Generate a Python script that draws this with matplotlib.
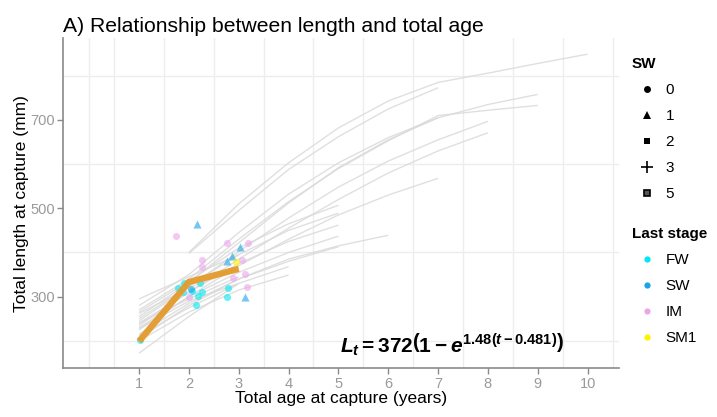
import matplotlib
matplotlib.use("Agg")
import matplotlib.pyplot as plt
from matplotlib.lines import Line2D

plt.rcParams["font.family"] = ["Liberation Sans", "DejaVu Sans"]
plt.rcParams["mathtext.fontset"] = "custom"
plt.rcParams["mathtext.rm"] = "Liberation Sans:bold"
plt.rcParams["mathtext.it"] = "Liberation Sans:italic:bold"
plt.rcParams["mathtext.bf"] = "Liberation Sans:bold"

# Back-calculated growth trajectories: (first age, lengths at successive ages)
traj_start = [2, 2, 1, 1, 1, 1, 1, 1, 1, 1, 1, 1, 1, 1, 1, 1, 1, 1, 1, 1, 1]
traj_lengths = [
    [400, 510, 603, 682, 743, 785, 806, 828, 849],
    [398, 495, 588, 662, 725, 773],
    [280, 350, 445, 532, 603, 660, 705, 735, 758],
    [270, 340, 430, 515, 590, 653, 710, 722, 733],
    [255, 332, 422, 512, 592, 655, 705],
    [245, 322, 402, 478, 548, 607, 655, 697],
    [235, 310, 385, 455, 520, 580, 630, 671],
    [225, 300, 370, 430, 485, 530, 568],
    [205, 280, 340, 385, 415, 439],
    [265, 335, 410, 465, 507],
    [250, 325, 395, 450, 489],
    [240, 310, 375, 425, 462],
    [230, 300, 355, 400, 437],
    [215, 285, 340, 380, 413],
    [200, 265, 315, 349],
    [212, 275, 330, 368],
    [295, 345, 395],
    [262, 320, 365],
    [172, 255, 330],
    [240, 295, 345],
    [228, 290, 330],
]

# Capture observations
obs_age = [1.02, 1.79, 1.90, 1.88, 2.22, 2.26, 2.19, 2.14, 2.79, 2.77, 2.06,
           2.16, 3.03, 2.86, 2.76, 3.13, 2.05,
           1.74, 2.76, 3.19, 2.26, 2.27, 3.06, 3.13, 2.88, 3.16, 2.00,
           2.95]
obs_len = [202, 319, 332, 311, 332, 311, 301, 281, 319, 299, 313,
           465, 412, 392, 381, 300, 318,
           438, 421, 421, 383, 368, 383, 351, 342, 321, 300,
           379]
obs_stage = ["FW"] * 11 + ["SW"] * 6 + ["IM"] * 10 + ["SM1"]
obs_sw = [0] * 11 + [1, 1, 1, 1, 1, 0] + [0] * 10 + [0]

# Mean fitted lengths at ages 1-3
fit_age = [1, 2, 3]
fit_len = [199, 333, 363]
Linf, k, t0 = 372, 1.48, 0.481

stage_names = ["FW", "SW", "IM", "SM1"]
stage_colors = ["#00E8F0", "#1AA3E8", "#EBA6EB", "#FFF200"]
sw_levels = [0, 1, 2, 3, 5]
sw_markers = ["o", "^", "s", "P", "s"]

x_ticks = list(range(1, 11))
y_ticks = [300, 500, 700]

fig = plt.figure(figsize=(7.17, 4.17), dpi=100)
ax = fig.add_axes([63.3 / 717, 1 - 368.3 / 417, (619 - 63.3) / 717, (368.3 - 38) / 417])

for start, vals in zip(traj_start, traj_lengths):
    ages = list(range(start, start + len(vals)))
    ax.plot(ages, vals, color="#DADADA", lw=1.0, alpha=0.85, zorder=2,
            solid_capstyle="butt")

ax.plot(fit_age, fit_len, color="#E39B2C", lw=4.6, alpha=0.95, zorder=4,
        solid_capstyle="butt", solid_joinstyle="miter")

cmap = dict(zip(stage_names, stage_colors))
mmap = dict(zip(sw_levels, sw_markers))
for a, l, st, sw in zip(obs_age, obs_len, obs_stage, obs_sw):
    ax.scatter([a], [l], s=26 if mmap[sw] == "o" else 34, marker=mmap[sw],
               color=cmap[st], alpha=0.6, linewidths=0, zorder=3)

ax.set_xlim(-0.52, 10.63)
ax.set_ylim(137.8, 885.6)
ax.set_xticks(x_ticks)
ax.set_yticks(y_ticks)
ax.set_xticks([0] + [i + 0.5 for i in range(0, 11)], minor=True)
ax.set_yticks([200, 400, 600, 800], minor=True)
ax.grid(which="minor", color="#EDEDED", lw=1.0)
ax.grid(which="major", visible=False)
ax.set_axisbelow(True)
ax.tick_params(which="minor", length=0)
ax.tick_params(which="major", length=4, width=1.0, color="#8A8A8A",
               labelcolor="#9A9A9A", labelsize=10.5, pad=2)
for side in ("top", "right"):
    ax.spines[side].set_visible(False)
for side in ("left", "bottom"):
    ax.spines[side].set_color("#8A8A8A")
    ax.spines[side].set_linewidth(1.2)

ax.set_xlabel("Total age at capture (years)", fontsize=12.5, labelpad=0)
ax.set_ylabel("Total length at capture (mm)", fontsize=12.5, labelpad=1)
fig.text(63 / 717, 1 - 27 / 417, "A) Relationship between length and total age",
         fontsize=15.2, va="center", ha="left")

ax.text(7.28, 192, r"$L_t = %d\left(1 - e^{%.2f(t-%.3f)}\right)$" % (Linf, k, t0),
        fontsize=15, ha="center", va="center", zorder=5)

# Legends
sw_handles = [
    Line2D([], [], ls="", marker="o", color="black", markersize=5, markeredgewidth=0),
    Line2D([], [], ls="", marker="^", color="black", markersize=5.5, markeredgewidth=0),
    Line2D([], [], ls="", marker="s", color="black", markersize=5, markeredgewidth=0),
    Line2D([], [], ls="", marker="+", color="black", markersize=8, markeredgewidth=1.2),
    Line2D([], [], ls="", marker="s", markerfacecolor="#555555",
           markeredgecolor="black", markersize=5, markeredgewidth=1.2),
]
leg_kw = dict(loc="upper left", frameon=False, fontsize=11, handlelength=2.0,
              handletextpad=0.2, labelspacing=0.79, borderpad=0, borderaxespad=0,
              title_fontproperties={"weight": "bold", "size": 11}, alignment="left")
leg1 = fig.legend(sw_handles, [str(v) for v in sw_levels], title="SW",
                  bbox_to_anchor=(632 / 717, 1 - 57 / 417), **leg_kw)
st_handles = [Line2D([], [], ls="", marker="o", color=c, markersize=4.5, markeredgewidth=0)
              for c in stage_colors]
leg2 = fig.legend(st_handles, stage_names, title="Last stage",
                  bbox_to_anchor=(632 / 717, 1 - 227 / 417), **leg_kw)

fig.savefig("out.png", dpi=100)
